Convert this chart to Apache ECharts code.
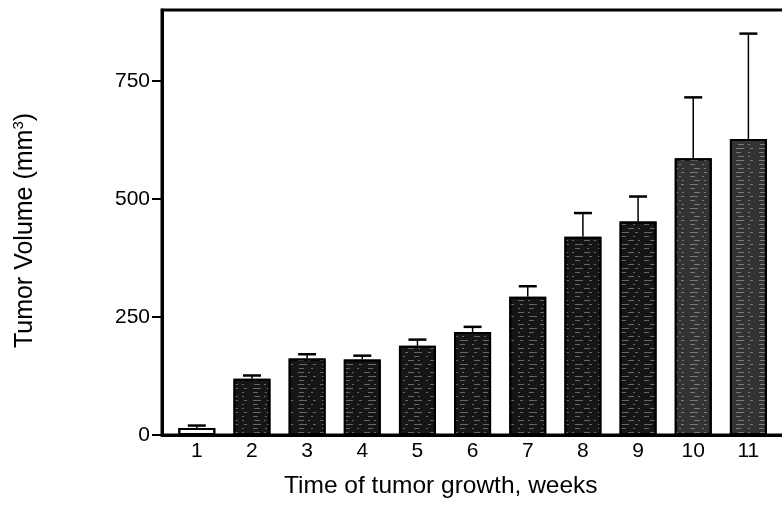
<!DOCTYPE html>
<html>
<head>
<meta charset="utf-8">
<script src="https://cdn.jsdelivr.net/npm/echarts@6/dist/echarts.min.js"></script>
<style>
html,body{margin:0;padding:0;background:#fff;}
#chart{width:782px;height:505px;}
</style>
</head>
<body>
<div id="chart"></div>
<script>
// Data
var weeks = [1, 2, 3, 4, 5, 6, 7, 8, 9, 10, 11];
var tumorVolume = [15, 119, 162, 160, 189, 218, 293, 420, 452, 586, 627];
var errorUp = [5, 7, 9, 8, 13, 11, 22, 50, 53, 129, 223];
var yTicks = [0, 250, 500, 750];

var FONT = 'Liberation Sans, Arial, Helvetica, sans-serif';

var barData = weeks.map(function (w, i) { return [w, tumorVolume[i]]; });
var errData = weeks.map(function (w, i) { return [w, tumorVolume[i], errorUp[i]]; });

var chart = echarts.init(document.getElementById('chart'), null, {renderer: 'canvas'});

chart.setOption({
  animation: false,
  backgroundColor: '#ffffff',
  grid: {
    left: 162, top: 10, width: 625, height: 425,
    outerBoundsMode: 'none',
    containLabel: false,
    show: true, borderColor: '#000', borderWidth: 3, backgroundColor: 'transparent'
  },
  xAxis: {
    type: 'value',
    min: 0.369, max: 11.7,
    axisLine: {show: true, lineStyle: {color: '#000', width: 3}},
    axisTick: {show: false},
    splitLine: {show: false},
    axisLabel: {
      customValues: weeks,
      color: '#000', fontFamily: FONT, fontSize: 21, margin: 6
    }
  },
  yAxis: {
    type: 'value',
    min: 0, max: 900,
    axisLine: {show: true, lineStyle: {color: '#000', width: 3}},
    axisTick: {show: true, customValues: yTicks, length: 10, lineStyle: {color: '#000', width: 2}},
    splitLine: {show: false},
    axisLabel: {
      customValues: yTicks,
      color: '#000', fontFamily: FONT, fontSize: 21, margin: 12,
      padding: [0, 0, 9, 0]
    },
    name: '{a|Tumor Volume (mm}{s|3}{a|)}',
    nameLocation: 'middle',
    nameGap: 123,
    nameTextStyle: {
      color: '#000', fontFamily: FONT, fontSize: 25,
      padding: [0, 16, 0, 0],
      rich: {
        a: {color: '#000', fontFamily: FONT, fontSize: 25},
        s: {color: '#000', fontFamily: FONT, fontSize: 15, padding: [0, 0, 13, 0]}
      }
    }
  },
  graphic: [{
    type: 'text',
    left: 284, top: 474,
    style: {
      text: 'Time of tumor growth, weeks',
      fill: '#000', font: '24.5px ' + FONT
    }
  }],
  series: [{
    type: 'bar',
    data: barData,
    barWidth: 37,
    itemStyle: {
      color: function (p) { return p.dataIndex === 0 ? '#ffffff' : (p.dataIndex >= 9 ? '#333333' : '#161616'); },
      borderColor: '#000',
      borderWidth: 2,
      decal: {
        symbol: 'rect',
        symbolSize: 1,
        color: 'rgba(255,255,255,0.35)',
        dashArrayX: [[5, 7, 2, 9], [2, 10, 6, 4], [8, 6, 3, 6]],
        dashArrayY: [1, 3],
        rotation: 0
      }
    },
    z: 2
  }, {
    type: 'custom',
    data: errData,
    z: 3,
    renderItem: function (params, api) {
      var x = api.value(0), y = api.value(1), e = api.value(2);
      var base = api.coord([x, y]);
      var top = api.coord([x, y + e]);
      return {
        type: 'group',
        children: [{
          type: 'line',
          shape: {x1: base[0], y1: base[1], x2: top[0], y2: top[1]},
          style: {stroke: '#000', lineWidth: 1.5}
        }, {
          type: 'line',
          shape: {x1: top[0] - 9, y1: top[1], x2: top[0] + 9, y2: top[1]},
          style: {stroke: '#000', lineWidth: 2.5}
        }]
      };
    }
  }]
});
</script>
</body>
</html>
